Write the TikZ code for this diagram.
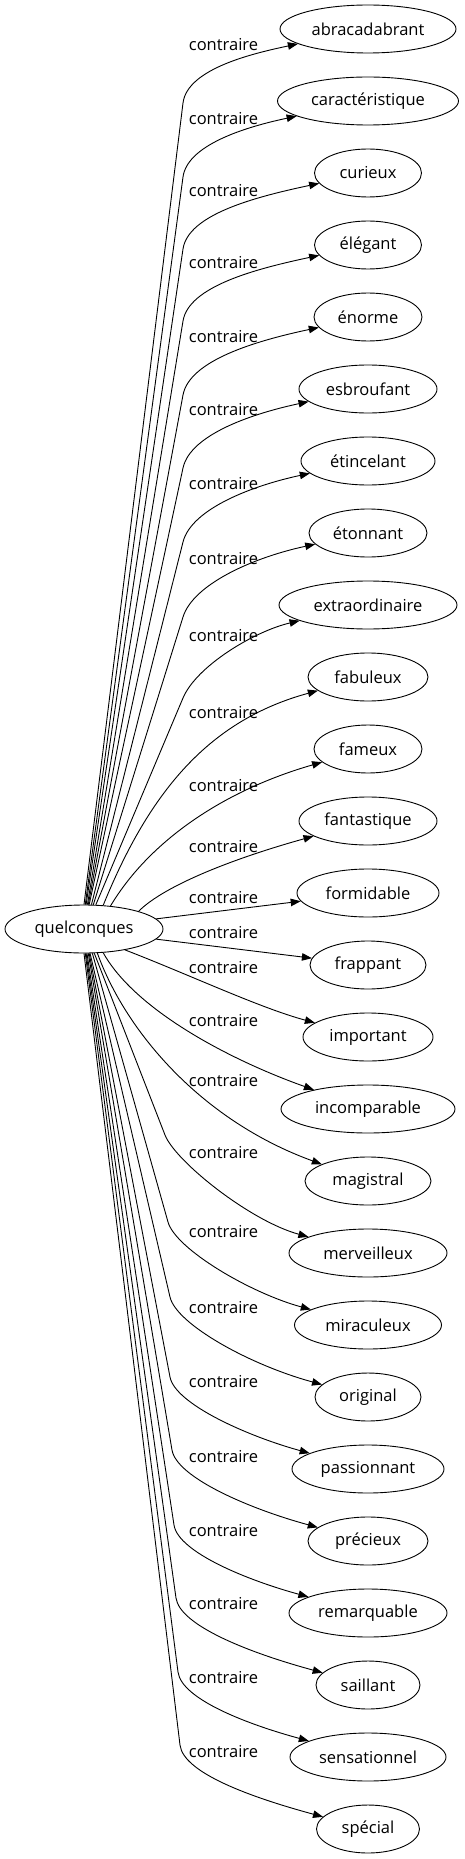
\documentclass[tikz,border=0pt]{standalone}
\usepackage{fontspec}
\setmainfont{Open Sans}
\usetikzlibrary{shapes.geometric,arrows.meta,calc}
\newcommand\myfs{\fontsize{16.5}{19}\selectfont}
\tikzset{
  word/.style={draw, ellipse, minimum height=48pt, inner sep=0pt, line width=0.9pt, font=\myfs},
  lab/.style={inner sep=0pt, font=\myfs},
  edge/.style={draw, line width=0.9pt, -{Triangle[length=10pt,width=7.5pt]}}
}
% upper: angle, W y, target, C4
\newcommand\edgeup[4]{\draw[edge] (q.#1) -- (183,#2) .. controls ($(183,#2)!-35pt!(q.#1)$) and (#4) .. (#3);}
% lower: angle, W, target, C4
\newcommand\edgedn[4]{\draw[edge] (q.#1) -- (#2) .. controls ($(#2)!-28pt!(q.#1)$) and (#4) .. (#3);}
\begin{document}
\begin{tikzpicture}[x=1pt,y=-1pt]
\useasboundingbox (0,0) rectangle (464,1859);
\node[word, minimum width=158pt] (q) at (84,929) {quelconques};
\node[word, minimum width=176pt] (n0) at (368,29) {abracadabrant};
\node[word, minimum width=181pt] (n1) at (368,101) {caractéristique};
\node[word, minimum width=107pt] (n2) at (368,173) {curieux};
\node[word, minimum width=107pt] (n3) at (368,245) {élégant};
\node[word, minimum width=108pt] (n4) at (368,317) {énorme};
\node[word, minimum width=138pt] (n5) at (368,389) {esbroufant};
\node[word, minimum width=134pt] (n6) at (368,461) {étincelant};
\node[word, minimum width=118pt] (n7) at (368,533) {étonnant};
\node[word, minimum width=178pt] (n8) at (368,605) {extraordinaire};
\node[word, minimum width=120pt] (n9) at (368,677) {fabuleux};
\node[word, minimum width=108pt] (n10) at (368,749) {fameux};
\node[word, minimum width=138pt] (n11) at (368,821) {fantastique};
\node[word, minimum width=142pt] (n12) at (368,893) {formidable};
\node[word, minimum width=116pt] (n13) at (368,965) {frappant};
\node[word, minimum width=130pt] (n14) at (368,1037) {important};
\node[word, minimum width=174pt] (n15) at (368,1109) {incomparable};
\node[word, minimum width=126pt] (n16) at (368,1181) {magistral};
\node[word, minimum width=158pt] (n17) at (368,1253) {merveilleux};
\node[word, minimum width=147pt] (n18) at (368,1325) {miraculeux};
\node[word, minimum width=106pt] (n19) at (368,1397) {original};
\node[word, minimum width=152pt] (n20) at (368,1469) {passionnant};
\node[word, minimum width=120pt] (n21) at (368,1541) {précieux};
\node[word, minimum width=158pt] (n22) at (368,1613) {remarquable};
\node[word, minimum width=104pt] (n23) at (368,1685) {saillant};
\node[word, minimum width=156pt] (n24) at (368,1757) {sensationnel};
\node[word, minimum width=103pt] (n25) at (368,1829) {spécial};
% labels
\foreach \i/\y in {0/45,1/119,2/191,3/263,4/337,5/410,6/484,7/559,8/636,9/713,10/786,11/847,12/898,13/933,14/968,15/1021,16/1081,17/1153,18/1232,19/1308,20/1382,21/1457,22/1531,23/1604,24/1678,25/1752}
  \node[lab] (l\i) at (223.5,\y) {contraire};
% upper edges
\edgeup{90}{103}{n0}{255,53}
\edgeup{87.6}{177}{n1}{255,125}
\edgeup{85.2}{249}{n2}{255,197}
\edgeup{82.9}{321}{n3}{255,269}
\edgeup{80.5}{395}{n4}{255,341}
\edgeup{78.1}{468}{n5}{255,413}
\edgeup{73.7}{542}{n6}{255,485}
\edgeup{69.4}{617}{n7}{255,557}
\edgeup{64}{698}{n8}{255,631}
\draw[edge] (q.51) .. controls (150,790) and (210,720) .. (n9);
\draw[edge] (q.41) .. controls (150,840) and (225,790) .. (n10);
\draw[edge] (q.18) .. controls (165,885) and (235,858) .. (n11);
\draw[edge] (q.8) -- (n12);
\draw[edge] (q.-8) -- (n13);
\draw[edge] (q.-27) .. controls (190,975) and (260,1008) .. (n14);
\draw[edge] (q.-51) .. controls (135,1010) and (230,1060) .. (n15);
\draw[edge] (q.-61) .. controls (125,1030) and (200,1120) .. (n16);
% lower edges
\edgedn{-67}{165,1135}{n17}{250,1221}
\edgedn{-71.5}{168,1222}{n18}{250,1293}
\edgedn{-76}{170,1297}{n19}{250,1365}
\edgedn{-78}{170,1377}{n20}{250,1437}
\edgedn{-80.5}{172,1450}{n21}{250,1509}
\edgedn{-83}{174,1525}{n22}{250,1581}
\edgedn{-85.2}{176,1598}{n23}{250,1653}
\edgedn{-87.6}{178,1672}{n24}{250,1725}
\edgedn{-90}{180,1745}{n25}{250,1797}
\end{tikzpicture}
\end{document}
